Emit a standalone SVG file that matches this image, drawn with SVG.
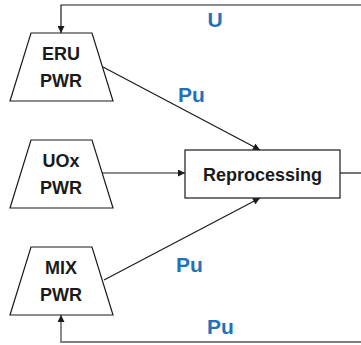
<svg xmlns="http://www.w3.org/2000/svg" width="361" height="345" viewBox="0 0 361 345">
<defs>
<marker id="ah" viewBox="0 0 10 10" refX="10" refY="5" markerWidth="8" markerHeight="7" markerUnits="userSpaceOnUse" orient="auto"><path d="M0,0 L10,5 L0,10 z" fill="#1a1a1a"/></marker>
<style>
.node{fill:#fff;stroke:#1a1a1a;stroke-width:1.2}
.lbl{font-family:"Liberation Sans",Arial,sans-serif;font-weight:bold;font-size:18px;fill:#1a1a1a;text-anchor:middle}
.flow{font-family:"Liberation Sans",Arial,sans-serif;font-weight:bold;font-size:21px;fill:#2372B8;text-anchor:middle}
.c{fill:none;stroke:#1a1a1a;stroke-width:1.2}
</style>
</defs>
<rect width="361" height="345" fill="#fff"/>
<g id="connectors">
<path class="c" d="M361,5 H61 V33" marker-end="url(#ah)"/>
<path class="c" d="M103,67 L260,150" marker-end="url(#ah)"/>
<path class="c" d="M102,173 L185,173" marker-end="url(#ah)"/>
<path class="c" d="M104,280 L260,198" marker-end="url(#ah)"/>
<path class="c" d="M340,173 H361"/>
<path class="c" d="M361,342 H61 V315" stroke="#7f7f7f" style="stroke:#7f7f7f;stroke-width:1.8" marker-end="url(#ah)"/>
<text class="flow" x="215" y="27">U</text>
<text class="flow" x="191.5" y="102">Pu</text>
<text class="flow" x="189.5" y="272">Pu</text>
<text class="flow" x="220.5" y="334">Pu</text>
</g>
<g id="eru">
<path class="node" d="M31,33 H92 L113,101 H10 Z"/>
<text class="lbl" x="61" y="60">ERU</text>
<text class="lbl" x="61" y="87">PWR</text>
</g>
<g id="uox">
<path class="node" d="M31,140 H92 L113,208 H10 Z"/>
<text class="lbl" x="61" y="167">UOx</text>
<text class="lbl" x="61" y="194">PWR</text>
</g>
<g id="mix">
<path class="node" d="M31,247 H92 L113,315 H10 Z"/>
<text class="lbl" x="61" y="274">MIX</text>
<text class="lbl" x="61" y="301">PWR</text>
</g>
<g id="reprocessing">
<rect class="node" x="185" y="150" width="155" height="48"/>
<text class="lbl" x="262.5" y="180.5">Reprocessing</text>
</g>
</svg>
